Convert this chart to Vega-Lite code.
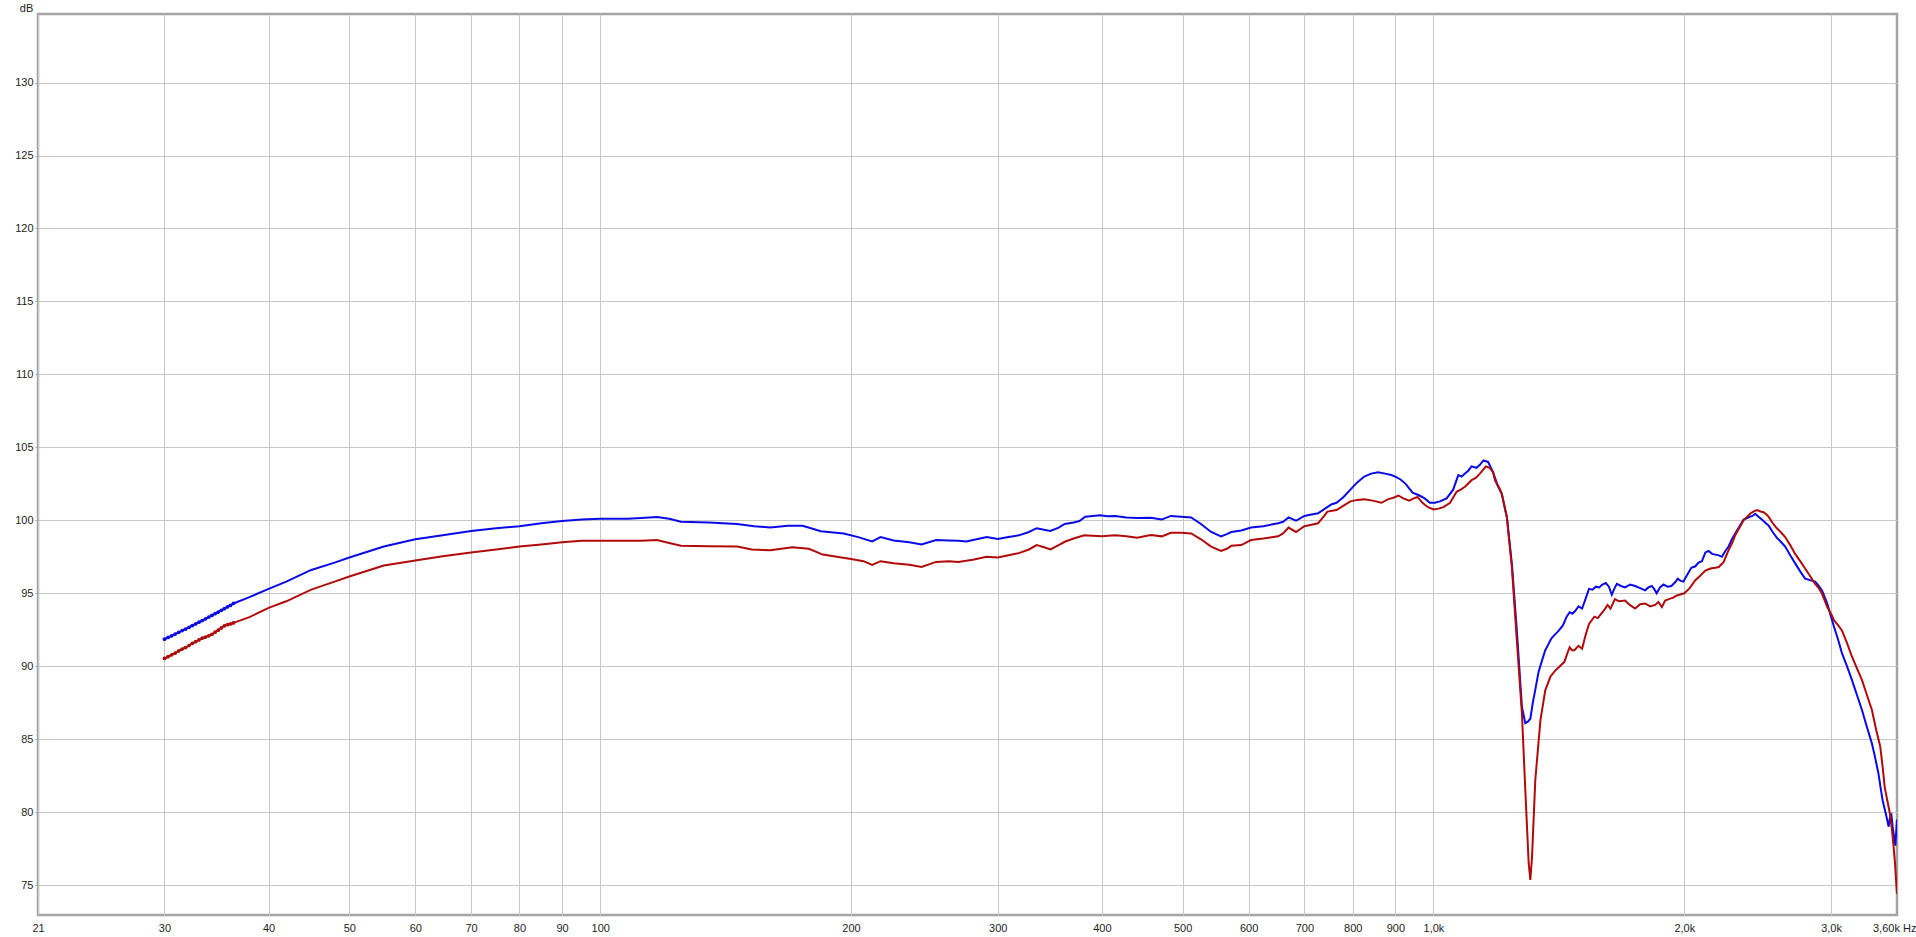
{
  "$schema": "https://vega.github.io/schema/vega-lite/v6.json",
  "width": 1859,
  "height": 901,
  "autosize": {"type": "none"},
  "padding": {"left": 38, "top": 14, "right": 19, "bottom": 22},
  "background": "#ffffff",
  "config": {
    "view": {"stroke": "#a4a4a4", "strokeWidth": 2.5},
    "axis": {
      "labelFont": "Liberation Sans",
      "labelFontSize": 11,
      "labelColor": "#1e1e1e",
      "gridWidth": 1,
      "domain": false,
      "titleFont": "Liberation Sans",
      "titleFontSize": 11,
      "titleFontWeight": "normal",
      "titleColor": "#1e1e1e"
    }
  },
  "datasets": {
    "curves": [
      {"freq": 30, "db": 91.85, "series": "A"},
      {"freq": 30.3, "db": 91.97, "series": "A"},
      {"freq": 30.6, "db": 92.08, "series": "A"},
      {"freq": 30.9, "db": 92.2, "series": "A"},
      {"freq": 31.2, "db": 92.32, "series": "A"},
      {"freq": 31.5, "db": 92.44, "series": "A"},
      {"freq": 31.8, "db": 92.55, "series": "A"},
      {"freq": 32.1, "db": 92.67, "series": "A"},
      {"freq": 32.4, "db": 92.79, "series": "A"},
      {"freq": 32.7, "db": 92.9, "series": "A"},
      {"freq": 33.0, "db": 93.02, "series": "A"},
      {"freq": 33.3, "db": 93.13, "series": "A"},
      {"freq": 33.6, "db": 93.25, "series": "A"},
      {"freq": 33.9, "db": 93.37, "series": "A"},
      {"freq": 34.2, "db": 93.48, "series": "A"},
      {"freq": 34.5, "db": 93.6, "series": "A"},
      {"freq": 34.8, "db": 93.71, "series": "A"},
      {"freq": 35.1, "db": 93.83, "series": "A"},
      {"freq": 35.4, "db": 93.94, "series": "A"},
      {"freq": 35.7, "db": 94.06, "series": "A"},
      {"freq": 36.0, "db": 94.17, "series": "A"},
      {"freq": 36.3, "db": 94.3, "series": "A"},
      {"freq": 38, "db": 94.75, "series": "A"},
      {"freq": 40, "db": 95.3, "series": "A"},
      {"freq": 42, "db": 95.8, "series": "A"},
      {"freq": 45, "db": 96.6, "series": "A"},
      {"freq": 48, "db": 97.1, "series": "A"},
      {"freq": 50, "db": 97.45, "series": "A"},
      {"freq": 55, "db": 98.2, "series": "A"},
      {"freq": 60, "db": 98.7, "series": "A"},
      {"freq": 65, "db": 99.0, "series": "A"},
      {"freq": 70, "db": 99.27, "series": "A"},
      {"freq": 75, "db": 99.45, "series": "A"},
      {"freq": 80, "db": 99.6, "series": "A"},
      {"freq": 85, "db": 99.8, "series": "A"},
      {"freq": 90, "db": 99.95, "series": "A"},
      {"freq": 95, "db": 100.05, "series": "A"},
      {"freq": 100, "db": 100.1, "series": "A"},
      {"freq": 108, "db": 100.1, "series": "A"},
      {"freq": 112, "db": 100.15, "series": "A"},
      {"freq": 117, "db": 100.22, "series": "A"},
      {"freq": 121, "db": 100.1, "series": "A"},
      {"freq": 125, "db": 99.9, "series": "A"},
      {"freq": 135, "db": 99.85, "series": "A"},
      {"freq": 146, "db": 99.75, "series": "A"},
      {"freq": 153, "db": 99.6, "series": "A"},
      {"freq": 160, "db": 99.5, "series": "A"},
      {"freq": 168, "db": 99.62, "series": "A"},
      {"freq": 175, "db": 99.62, "series": "A"},
      {"freq": 184, "db": 99.25, "series": "A"},
      {"freq": 196, "db": 99.1, "series": "A"},
      {"freq": 204, "db": 98.85, "series": "A"},
      {"freq": 212, "db": 98.55, "series": "A"},
      {"freq": 217, "db": 98.85, "series": "A"},
      {"freq": 225, "db": 98.62, "series": "A"},
      {"freq": 235, "db": 98.5, "series": "A"},
      {"freq": 243, "db": 98.35, "series": "A"},
      {"freq": 253, "db": 98.65, "series": "A"},
      {"freq": 262, "db": 98.62, "series": "A"},
      {"freq": 269, "db": 98.6, "series": "A"},
      {"freq": 275, "db": 98.55, "series": "A"},
      {"freq": 283, "db": 98.7, "series": "A"},
      {"freq": 291, "db": 98.85, "series": "A"},
      {"freq": 300, "db": 98.72, "series": "A"},
      {"freq": 309, "db": 98.85, "series": "A"},
      {"freq": 318, "db": 98.97, "series": "A"},
      {"freq": 327, "db": 99.2, "series": "A"},
      {"freq": 334, "db": 99.46, "series": "A"},
      {"freq": 341, "db": 99.35, "series": "A"},
      {"freq": 347, "db": 99.27, "series": "A"},
      {"freq": 355, "db": 99.5, "series": "A"},
      {"freq": 361, "db": 99.75, "series": "A"},
      {"freq": 370, "db": 99.85, "series": "A"},
      {"freq": 376, "db": 99.95, "series": "A"},
      {"freq": 382, "db": 100.25, "series": "A"},
      {"freq": 390, "db": 100.3, "series": "A"},
      {"freq": 398, "db": 100.35, "series": "A"},
      {"freq": 406, "db": 100.28, "series": "A"},
      {"freq": 415, "db": 100.3, "series": "A"},
      {"freq": 428, "db": 100.2, "series": "A"},
      {"freq": 441, "db": 100.15, "series": "A"},
      {"freq": 458, "db": 100.18, "series": "A"},
      {"freq": 472, "db": 100.05, "series": "A"},
      {"freq": 484, "db": 100.3, "series": "A"},
      {"freq": 498, "db": 100.25, "series": "A"},
      {"freq": 512, "db": 100.2, "series": "A"},
      {"freq": 526, "db": 99.75, "series": "A"},
      {"freq": 541, "db": 99.2, "series": "A"},
      {"freq": 556, "db": 98.9, "series": "A"},
      {"freq": 565, "db": 99.05, "series": "A"},
      {"freq": 572, "db": 99.2, "series": "A"},
      {"freq": 588, "db": 99.3, "series": "A"},
      {"freq": 604, "db": 99.5, "series": "A"},
      {"freq": 625, "db": 99.6, "series": "A"},
      {"freq": 651, "db": 99.8, "series": "A"},
      {"freq": 660, "db": 99.9, "series": "A"},
      {"freq": 670, "db": 100.2, "series": "A"},
      {"freq": 684, "db": 99.97, "series": "A"},
      {"freq": 700, "db": 100.3, "series": "A"},
      {"freq": 714, "db": 100.4, "series": "A"},
      {"freq": 727, "db": 100.48, "series": "A"},
      {"freq": 741, "db": 100.8, "series": "A"},
      {"freq": 755, "db": 101.1, "series": "A"},
      {"freq": 765, "db": 101.2, "series": "A"},
      {"freq": 780, "db": 101.6, "series": "A"},
      {"freq": 795, "db": 102.1, "series": "A"},
      {"freq": 810, "db": 102.6, "series": "A"},
      {"freq": 826, "db": 103.0, "series": "A"},
      {"freq": 842, "db": 103.2, "series": "A"},
      {"freq": 858, "db": 103.3, "series": "A"},
      {"freq": 875, "db": 103.2, "series": "A"},
      {"freq": 890, "db": 103.1, "series": "A"},
      {"freq": 900, "db": 103.0, "series": "A"},
      {"freq": 913, "db": 102.8, "series": "A"},
      {"freq": 926, "db": 102.5, "series": "A"},
      {"freq": 944, "db": 101.9, "series": "A"},
      {"freq": 962, "db": 101.7, "series": "A"},
      {"freq": 976, "db": 101.5, "series": "A"},
      {"freq": 990, "db": 101.2, "series": "A"},
      {"freq": 1004, "db": 101.2, "series": "A"},
      {"freq": 1018, "db": 101.3, "series": "A"},
      {"freq": 1037, "db": 101.5, "series": "A"},
      {"freq": 1056, "db": 102.1, "series": "A"},
      {"freq": 1071, "db": 103.1, "series": "A"},
      {"freq": 1081, "db": 103.0, "series": "A"},
      {"freq": 1091, "db": 103.2, "series": "A"},
      {"freq": 1101, "db": 103.4, "series": "A"},
      {"freq": 1111, "db": 103.7, "series": "A"},
      {"freq": 1126, "db": 103.6, "series": "A"},
      {"freq": 1137, "db": 103.8, "series": "A"},
      {"freq": 1148, "db": 104.1, "series": "A"},
      {"freq": 1163, "db": 104.0, "series": "A"},
      {"freq": 1179, "db": 103.3, "series": "A"},
      {"freq": 1194, "db": 102.4, "series": "A"},
      {"freq": 1208, "db": 101.8, "series": "A"},
      {"freq": 1225, "db": 100.2, "series": "A"},
      {"freq": 1242, "db": 97.0, "series": "A"},
      {"freq": 1259, "db": 92.5, "series": "A"},
      {"freq": 1277, "db": 87.2, "series": "A"},
      {"freq": 1289, "db": 86.1, "series": "A"},
      {"freq": 1298, "db": 86.2, "series": "A"},
      {"freq": 1307, "db": 86.4, "series": "A"},
      {"freq": 1316, "db": 87.5, "series": "A"},
      {"freq": 1325, "db": 88.4, "series": "A"},
      {"freq": 1337, "db": 89.6, "series": "A"},
      {"freq": 1350, "db": 90.4, "series": "A"},
      {"freq": 1362, "db": 91.1, "series": "A"},
      {"freq": 1375, "db": 91.55, "series": "A"},
      {"freq": 1385, "db": 91.9, "series": "A"},
      {"freq": 1395, "db": 92.1, "series": "A"},
      {"freq": 1412, "db": 92.4, "series": "A"},
      {"freq": 1430, "db": 92.8, "series": "A"},
      {"freq": 1445, "db": 93.4, "series": "A"},
      {"freq": 1457, "db": 93.7, "series": "A"},
      {"freq": 1468, "db": 93.6, "series": "A"},
      {"freq": 1480, "db": 93.8, "series": "A"},
      {"freq": 1493, "db": 94.1, "series": "A"},
      {"freq": 1508, "db": 93.95, "series": "A"},
      {"freq": 1522, "db": 94.6, "series": "A"},
      {"freq": 1537, "db": 95.3, "series": "A"},
      {"freq": 1552, "db": 95.25, "series": "A"},
      {"freq": 1566, "db": 95.45, "series": "A"},
      {"freq": 1581, "db": 95.4, "series": "A"},
      {"freq": 1595, "db": 95.6, "series": "A"},
      {"freq": 1610, "db": 95.7, "series": "A"},
      {"freq": 1624, "db": 95.45, "series": "A"},
      {"freq": 1637, "db": 94.9, "series": "A"},
      {"freq": 1648, "db": 95.3, "series": "A"},
      {"freq": 1660, "db": 95.65, "series": "A"},
      {"freq": 1679, "db": 95.5, "series": "A"},
      {"freq": 1698, "db": 95.4, "series": "A"},
      {"freq": 1722, "db": 95.6, "series": "A"},
      {"freq": 1746, "db": 95.5, "series": "A"},
      {"freq": 1770, "db": 95.35, "series": "A"},
      {"freq": 1795, "db": 95.2, "series": "A"},
      {"freq": 1811, "db": 95.4, "series": "A"},
      {"freq": 1828, "db": 95.5, "series": "A"},
      {"freq": 1840, "db": 95.3, "series": "A"},
      {"freq": 1853, "db": 95.0, "series": "A"},
      {"freq": 1870, "db": 95.4, "series": "A"},
      {"freq": 1888, "db": 95.6, "series": "A"},
      {"freq": 1910, "db": 95.45, "series": "A"},
      {"freq": 1930, "db": 95.5, "series": "A"},
      {"freq": 1950, "db": 95.75, "series": "A"},
      {"freq": 1964, "db": 96.0, "series": "A"},
      {"freq": 1980, "db": 95.85, "series": "A"},
      {"freq": 1995, "db": 95.8, "series": "A"},
      {"freq": 2018, "db": 96.3, "series": "A"},
      {"freq": 2039, "db": 96.75, "series": "A"},
      {"freq": 2062, "db": 96.85, "series": "A"},
      {"freq": 2080, "db": 97.1, "series": "A"},
      {"freq": 2100, "db": 97.2, "series": "A"},
      {"freq": 2120, "db": 97.8, "series": "A"},
      {"freq": 2139, "db": 97.9, "series": "A"},
      {"freq": 2160, "db": 97.7, "series": "A"},
      {"freq": 2179, "db": 97.65, "series": "A"},
      {"freq": 2200, "db": 97.6, "series": "A"},
      {"freq": 2219, "db": 97.5, "series": "A"},
      {"freq": 2240, "db": 97.9, "series": "A"},
      {"freq": 2260, "db": 98.2, "series": "A"},
      {"freq": 2281, "db": 98.7, "series": "A"},
      {"freq": 2302, "db": 99.1, "series": "A"},
      {"freq": 2330, "db": 99.6, "series": "A"},
      {"freq": 2356, "db": 100.05, "series": "A"},
      {"freq": 2380, "db": 100.15, "series": "A"},
      {"freq": 2399, "db": 100.25, "series": "A"},
      {"freq": 2415, "db": 100.3, "series": "A"},
      {"freq": 2433, "db": 100.45, "series": "A"},
      {"freq": 2455, "db": 100.25, "series": "A"},
      {"freq": 2478, "db": 100.05, "series": "A"},
      {"freq": 2500, "db": 99.85, "series": "A"},
      {"freq": 2524, "db": 99.65, "series": "A"},
      {"freq": 2550, "db": 99.25, "series": "A"},
      {"freq": 2583, "db": 98.8, "series": "A"},
      {"freq": 2610, "db": 98.55, "series": "A"},
      {"freq": 2643, "db": 98.2, "series": "A"},
      {"freq": 2680, "db": 97.6, "series": "A"},
      {"freq": 2717, "db": 97.05, "series": "A"},
      {"freq": 2755, "db": 96.5, "series": "A"},
      {"freq": 2793, "db": 96.0, "series": "A"},
      {"freq": 2830, "db": 95.9, "series": "A"},
      {"freq": 2871, "db": 95.8, "series": "A"},
      {"freq": 2900, "db": 95.5, "series": "A"},
      {"freq": 2925, "db": 95.2, "series": "A"},
      {"freq": 2950, "db": 94.7, "series": "A"},
      {"freq": 2969, "db": 94.3, "series": "A"},
      {"freq": 3000, "db": 93.4, "series": "A"},
      {"freq": 3025, "db": 92.7, "series": "A"},
      {"freq": 3060, "db": 91.8, "series": "A"},
      {"freq": 3092, "db": 90.9, "series": "A"},
      {"freq": 3135, "db": 90.0, "series": "A"},
      {"freq": 3179, "db": 89.05, "series": "A"},
      {"freq": 3220, "db": 88.1, "series": "A"},
      {"freq": 3268, "db": 87.0, "series": "A"},
      {"freq": 3310, "db": 85.9, "series": "A"},
      {"freq": 3359, "db": 84.7, "series": "A"},
      {"freq": 3390, "db": 83.7, "series": "A"},
      {"freq": 3420, "db": 82.65, "series": "A"},
      {"freq": 3440, "db": 81.7, "series": "A"},
      {"freq": 3460, "db": 80.8, "series": "A"},
      {"freq": 3490, "db": 79.9, "series": "A"},
      {"freq": 3518, "db": 79.0, "series": "A"},
      {"freq": 3530, "db": 79.6, "series": "A"},
      {"freq": 3545, "db": 79.8, "series": "A"},
      {"freq": 3557, "db": 79.0, "series": "A"},
      {"freq": 3567, "db": 78.5, "series": "A"},
      {"freq": 3584, "db": 77.7, "series": "A"},
      {"freq": 3595, "db": 79.0, "series": "A"},
      {"freq": 3600, "db": 79.5, "series": "A"},

      {"freq": 30, "db": 90.53, "series": "B"},
      {"freq": 30.3, "db": 90.65, "series": "B"},
      {"freq": 30.6, "db": 90.78, "series": "B"},
      {"freq": 30.9, "db": 90.9, "series": "B"},
      {"freq": 31.2, "db": 91.05, "series": "B"},
      {"freq": 31.5, "db": 91.18, "series": "B"},
      {"freq": 31.8, "db": 91.28, "series": "B"},
      {"freq": 32.1, "db": 91.42, "series": "B"},
      {"freq": 32.4, "db": 91.57, "series": "B"},
      {"freq": 32.7, "db": 91.68, "series": "B"},
      {"freq": 33.0, "db": 91.8, "series": "B"},
      {"freq": 33.3, "db": 91.92, "series": "B"},
      {"freq": 33.6, "db": 92.0, "series": "B"},
      {"freq": 33.9, "db": 92.08, "series": "B"},
      {"freq": 34.2, "db": 92.19, "series": "B"},
      {"freq": 34.5, "db": 92.33, "series": "B"},
      {"freq": 34.8, "db": 92.47, "series": "B"},
      {"freq": 35.1, "db": 92.62, "series": "B"},
      {"freq": 35.4, "db": 92.77, "series": "B"},
      {"freq": 35.7, "db": 92.85, "series": "B"},
      {"freq": 36.0, "db": 92.9, "series": "B"},
      {"freq": 36.3, "db": 92.97, "series": "B"},
      {"freq": 38, "db": 93.38, "series": "B"},
      {"freq": 40, "db": 94.0, "series": "B"},
      {"freq": 42, "db": 94.45, "series": "B"},
      {"freq": 45, "db": 95.25, "series": "B"},
      {"freq": 48, "db": 95.8, "series": "B"},
      {"freq": 50, "db": 96.15, "series": "B"},
      {"freq": 55, "db": 96.9, "series": "B"},
      {"freq": 60, "db": 97.25, "series": "B"},
      {"freq": 65, "db": 97.55, "series": "B"},
      {"freq": 70, "db": 97.8, "series": "B"},
      {"freq": 75, "db": 98.0, "series": "B"},
      {"freq": 80, "db": 98.2, "series": "B"},
      {"freq": 85, "db": 98.35, "series": "B"},
      {"freq": 90, "db": 98.5, "series": "B"},
      {"freq": 95, "db": 98.6, "series": "B"},
      {"freq": 100, "db": 98.6, "series": "B"},
      {"freq": 108, "db": 98.6, "series": "B"},
      {"freq": 112, "db": 98.6, "series": "B"},
      {"freq": 117, "db": 98.65, "series": "B"},
      {"freq": 121, "db": 98.45, "series": "B"},
      {"freq": 125, "db": 98.25, "series": "B"},
      {"freq": 135, "db": 98.22, "series": "B"},
      {"freq": 146, "db": 98.2, "series": "B"},
      {"freq": 152, "db": 98.0, "series": "B"},
      {"freq": 160, "db": 97.95, "series": "B"},
      {"freq": 170, "db": 98.15, "series": "B"},
      {"freq": 178, "db": 98.05, "series": "B"},
      {"freq": 185, "db": 97.65, "series": "B"},
      {"freq": 200, "db": 97.35, "series": "B"},
      {"freq": 207, "db": 97.2, "series": "B"},
      {"freq": 212, "db": 96.95, "series": "B"},
      {"freq": 217, "db": 97.2, "series": "B"},
      {"freq": 225, "db": 97.05, "series": "B"},
      {"freq": 235, "db": 96.95, "series": "B"},
      {"freq": 243, "db": 96.8, "series": "B"},
      {"freq": 253, "db": 97.15, "series": "B"},
      {"freq": 262, "db": 97.2, "series": "B"},
      {"freq": 269, "db": 97.15, "series": "B"},
      {"freq": 280, "db": 97.3, "series": "B"},
      {"freq": 291, "db": 97.5, "series": "B"},
      {"freq": 300, "db": 97.45, "series": "B"},
      {"freq": 309, "db": 97.6, "series": "B"},
      {"freq": 318, "db": 97.75, "series": "B"},
      {"freq": 327, "db": 98.0, "series": "B"},
      {"freq": 334, "db": 98.3, "series": "B"},
      {"freq": 341, "db": 98.15, "series": "B"},
      {"freq": 347, "db": 98.0, "series": "B"},
      {"freq": 355, "db": 98.3, "series": "B"},
      {"freq": 361, "db": 98.53, "series": "B"},
      {"freq": 370, "db": 98.75, "series": "B"},
      {"freq": 381, "db": 98.97, "series": "B"},
      {"freq": 390, "db": 98.95, "series": "B"},
      {"freq": 400, "db": 98.9, "series": "B"},
      {"freq": 415, "db": 98.97, "series": "B"},
      {"freq": 428, "db": 98.9, "series": "B"},
      {"freq": 441, "db": 98.8, "series": "B"},
      {"freq": 458, "db": 99.0, "series": "B"},
      {"freq": 472, "db": 98.9, "series": "B"},
      {"freq": 484, "db": 99.15, "series": "B"},
      {"freq": 498, "db": 99.15, "series": "B"},
      {"freq": 512, "db": 99.1, "series": "B"},
      {"freq": 526, "db": 98.7, "series": "B"},
      {"freq": 541, "db": 98.2, "series": "B"},
      {"freq": 556, "db": 97.9, "series": "B"},
      {"freq": 565, "db": 98.05, "series": "B"},
      {"freq": 572, "db": 98.25, "series": "B"},
      {"freq": 588, "db": 98.3, "series": "B"},
      {"freq": 604, "db": 98.65, "series": "B"},
      {"freq": 625, "db": 98.75, "series": "B"},
      {"freq": 651, "db": 98.9, "series": "B"},
      {"freq": 660, "db": 99.1, "series": "B"},
      {"freq": 670, "db": 99.5, "series": "B"},
      {"freq": 684, "db": 99.2, "series": "B"},
      {"freq": 700, "db": 99.6, "series": "B"},
      {"freq": 714, "db": 99.7, "series": "B"},
      {"freq": 727, "db": 99.8, "series": "B"},
      {"freq": 737, "db": 100.2, "series": "B"},
      {"freq": 746, "db": 100.6, "series": "B"},
      {"freq": 765, "db": 100.7, "series": "B"},
      {"freq": 780, "db": 101.0, "series": "B"},
      {"freq": 795, "db": 101.3, "series": "B"},
      {"freq": 810, "db": 101.4, "series": "B"},
      {"freq": 826, "db": 101.45, "series": "B"},
      {"freq": 845, "db": 101.35, "series": "B"},
      {"freq": 866, "db": 101.2, "series": "B"},
      {"freq": 883, "db": 101.45, "series": "B"},
      {"freq": 895, "db": 101.55, "series": "B"},
      {"freq": 908, "db": 101.7, "series": "B"},
      {"freq": 920, "db": 101.5, "series": "B"},
      {"freq": 935, "db": 101.35, "series": "B"},
      {"freq": 947, "db": 101.5, "series": "B"},
      {"freq": 957, "db": 101.6, "series": "B"},
      {"freq": 970, "db": 101.2, "series": "B"},
      {"freq": 985, "db": 100.9, "series": "B"},
      {"freq": 1000, "db": 100.75, "series": "B"},
      {"freq": 1014, "db": 100.8, "series": "B"},
      {"freq": 1028, "db": 100.9, "series": "B"},
      {"freq": 1047, "db": 101.2, "series": "B"},
      {"freq": 1066, "db": 101.95, "series": "B"},
      {"freq": 1078, "db": 102.1, "series": "B"},
      {"freq": 1091, "db": 102.3, "series": "B"},
      {"freq": 1111, "db": 102.75, "series": "B"},
      {"freq": 1124, "db": 102.9, "series": "B"},
      {"freq": 1137, "db": 103.2, "series": "B"},
      {"freq": 1156, "db": 103.7, "series": "B"},
      {"freq": 1168, "db": 103.6, "series": "B"},
      {"freq": 1179, "db": 103.3, "series": "B"},
      {"freq": 1186, "db": 102.7, "series": "B"},
      {"freq": 1200, "db": 102.2, "series": "B"},
      {"freq": 1208, "db": 101.8, "series": "B"},
      {"freq": 1225, "db": 100.2, "series": "B"},
      {"freq": 1242, "db": 96.8, "series": "B"},
      {"freq": 1259, "db": 91.8, "series": "B"},
      {"freq": 1277, "db": 86.75, "series": "B"},
      {"freq": 1289, "db": 81.5, "series": "B"},
      {"freq": 1301, "db": 76.5, "series": "B"},
      {"freq": 1307, "db": 75.35, "series": "B"},
      {"freq": 1313, "db": 76.9, "series": "B"},
      {"freq": 1325, "db": 82.2, "series": "B"},
      {"freq": 1344, "db": 86.3, "series": "B"},
      {"freq": 1362, "db": 88.35, "series": "B"},
      {"freq": 1382, "db": 89.3, "series": "B"},
      {"freq": 1400, "db": 89.7, "series": "B"},
      {"freq": 1415, "db": 89.95, "series": "B"},
      {"freq": 1436, "db": 90.3, "series": "B"},
      {"freq": 1448, "db": 90.9, "series": "B"},
      {"freq": 1457, "db": 91.3, "series": "B"},
      {"freq": 1466, "db": 91.1, "series": "B"},
      {"freq": 1476, "db": 91.1, "series": "B"},
      {"freq": 1493, "db": 91.4, "series": "B"},
      {"freq": 1508, "db": 91.2, "series": "B"},
      {"freq": 1522, "db": 92.1, "series": "B"},
      {"freq": 1537, "db": 92.9, "series": "B"},
      {"freq": 1560, "db": 93.4, "series": "B"},
      {"freq": 1575, "db": 93.3, "series": "B"},
      {"freq": 1590, "db": 93.6, "series": "B"},
      {"freq": 1605, "db": 93.9, "series": "B"},
      {"freq": 1618, "db": 94.2, "series": "B"},
      {"freq": 1631, "db": 93.95, "series": "B"},
      {"freq": 1651, "db": 94.6, "series": "B"},
      {"freq": 1670, "db": 94.45, "series": "B"},
      {"freq": 1698, "db": 94.5, "series": "B"},
      {"freq": 1720, "db": 94.2, "series": "B"},
      {"freq": 1746, "db": 93.95, "series": "B"},
      {"freq": 1770, "db": 94.25, "series": "B"},
      {"freq": 1795, "db": 94.3, "series": "B"},
      {"freq": 1820, "db": 94.1, "series": "B"},
      {"freq": 1845, "db": 94.2, "series": "B"},
      {"freq": 1862, "db": 94.4, "series": "B"},
      {"freq": 1880, "db": 94.05, "series": "B"},
      {"freq": 1897, "db": 94.5, "series": "B"},
      {"freq": 1916, "db": 94.6, "series": "B"},
      {"freq": 1940, "db": 94.7, "series": "B"},
      {"freq": 1960, "db": 94.85, "series": "B"},
      {"freq": 2000, "db": 95.0, "series": "B"},
      {"freq": 2030, "db": 95.35, "series": "B"},
      {"freq": 2062, "db": 95.9, "series": "B"},
      {"freq": 2090, "db": 96.2, "series": "B"},
      {"freq": 2120, "db": 96.55, "series": "B"},
      {"freq": 2150, "db": 96.7, "series": "B"},
      {"freq": 2179, "db": 96.75, "series": "B"},
      {"freq": 2200, "db": 96.8, "series": "B"},
      {"freq": 2230, "db": 97.15, "series": "B"},
      {"freq": 2260, "db": 97.95, "series": "B"},
      {"freq": 2281, "db": 98.4, "series": "B"},
      {"freq": 2302, "db": 98.97, "series": "B"},
      {"freq": 2330, "db": 99.5, "series": "B"},
      {"freq": 2356, "db": 100.0, "series": "B"},
      {"freq": 2380, "db": 100.25, "series": "B"},
      {"freq": 2399, "db": 100.45, "series": "B"},
      {"freq": 2420, "db": 100.6, "series": "B"},
      {"freq": 2444, "db": 100.7, "series": "B"},
      {"freq": 2470, "db": 100.6, "series": "B"},
      {"freq": 2490, "db": 100.55, "series": "B"},
      {"freq": 2510, "db": 100.4, "series": "B"},
      {"freq": 2524, "db": 100.25, "series": "B"},
      {"freq": 2550, "db": 99.85, "series": "B"},
      {"freq": 2583, "db": 99.45, "series": "B"},
      {"freq": 2610, "db": 99.2, "series": "B"},
      {"freq": 2643, "db": 98.85, "series": "B"},
      {"freq": 2680, "db": 98.3, "series": "B"},
      {"freq": 2717, "db": 97.7, "series": "B"},
      {"freq": 2755, "db": 97.2, "series": "B"},
      {"freq": 2793, "db": 96.7, "series": "B"},
      {"freq": 2830, "db": 96.2, "series": "B"},
      {"freq": 2871, "db": 95.65, "series": "B"},
      {"freq": 2900, "db": 95.35, "series": "B"},
      {"freq": 2925, "db": 95.0, "series": "B"},
      {"freq": 2969, "db": 94.05, "series": "B"},
      {"freq": 3000, "db": 93.6, "series": "B"},
      {"freq": 3025, "db": 93.15, "series": "B"},
      {"freq": 3060, "db": 92.8, "series": "B"},
      {"freq": 3092, "db": 92.45, "series": "B"},
      {"freq": 3135, "db": 91.6, "series": "B"},
      {"freq": 3179, "db": 90.65, "series": "B"},
      {"freq": 3220, "db": 89.9, "series": "B"},
      {"freq": 3268, "db": 89.05, "series": "B"},
      {"freq": 3310, "db": 88.1, "series": "B"},
      {"freq": 3359, "db": 87.0, "series": "B"},
      {"freq": 3400, "db": 85.6, "series": "B"},
      {"freq": 3437, "db": 84.5, "series": "B"},
      {"freq": 3460, "db": 83.1, "series": "B"},
      {"freq": 3480, "db": 81.7, "series": "B"},
      {"freq": 3505, "db": 80.8, "series": "B"},
      {"freq": 3530, "db": 79.9, "series": "B"},
      {"freq": 3550, "db": 78.8, "series": "B"},
      {"freq": 3567, "db": 77.6, "series": "B"},
      {"freq": 3580, "db": 76.5, "series": "B"},
      {"freq": 3593, "db": 75.1, "series": "B"},
      {"freq": 3600, "db": 74.4, "series": "B"}
    ]
  },
  "data": {"name": "curves"},
  "encoding": {
    "x": {
      "field": "freq",
      "type": "quantitative",
      "scale": {"type": "log", "domain": [21.15, 3600], "nice": false, "zero": false},
      "axis": {
        "title": null,
        "values": [21.15, 30, 40, 50, 60, 70, 80, 90, 100, 200, 300, 400, 500, 600, 700, 800, 900, 1000, 2000, 3000, 3572],
        "labelExpr": "datum.value > 3500 ? '3,60k Hz' : datum.value < 22 ? '21' : datum.value == 3000 ? '3,0k' : datum.value == 2000 ? '2,0k' : datum.value == 1000 ? '1,0k' : format(datum.value, 'd')",
        "ticks": false,
        "labelPadding": 7,
        "labelOverlap": false,
        "labelFlush": false,
        "labelBound": false,
        "grid": true,
        "gridColor": {"condition": {"test": "datum.value > 3500", "value": "rgba(0,0,0,0)"}, "value": "#c8c8c8"}
      }
    },
    "y": {
      "field": "db",
      "type": "quantitative",
      "scale": {"domain": [72.95, 134.7], "nice": false, "zero": false},
      "axis": {
        "title": "dB",
        "titleAngle": 0,
        "titleAlign": "center",
        "titleBaseline": "alphabetic",
        "titleX": -12,
        "titleY": -2.5,
        "values": [75, 80, 85, 90, 95, 100, 105, 110, 115, 120, 125, 130],
        "format": "d",
        "ticks": true,
        "tickSize": 3,
        "tickColor": "#a4a4a4",
        "labelPadding": 2,
        "grid": true,
        "gridColor": "#c8c8c8"
      }
    },
    "color": {
      "field": "series",
      "type": "nominal",
      "scale": {"domain": ["A", "B"], "range": ["#0a0ae8", "#b00a0a"]},
      "legend": null
    }
  },
  "layer": [
    {
      "mark": {"type": "line", "strokeWidth": 2, "clip": true, "interpolate": "linear"}
    },
    {
      "transform": [{"filter": "datum.freq <= 36.3"}],
      "mark": {"type": "point", "filled": true, "size": 14, "opacity": 1}
    }
  ]
}
